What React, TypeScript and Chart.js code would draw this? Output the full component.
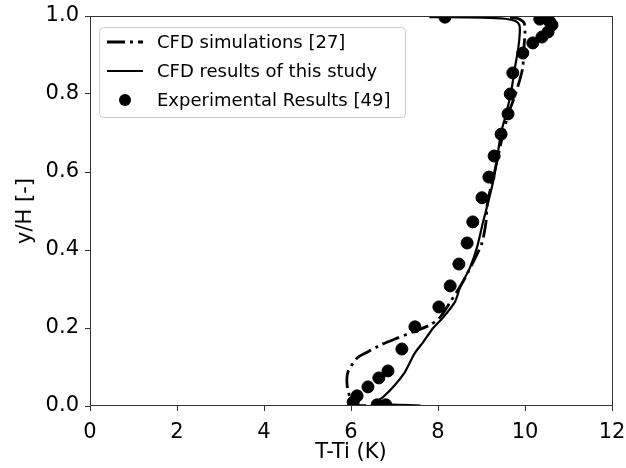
import React, { useEffect, useRef } from 'react';
import { Chart, registerables } from 'chart.js';

Chart.register(...registerables);

const FONT = "'DejaVu Sans', 'Liberation Sans', sans-serif";

// CFD simulations [27] (dash-dot)
const simX = [6.35, 6.05, 5.98, 5.91, 5.93, 6.14, 6.37, 6.67, 7.06, 7.43, 7.82, 8.05, 8.3, 8.57, 8.8, 9.01, 9.1, 9.13, 9.2, 9.3, 9.42, 9.5, 9.62, 9.75, 9.88, 9.95, 9.97, 10.0, 9.98, 9.85, 9.6];
const simY = [0.001, 0.003, 0.02, 0.054, 0.087, 0.123, 0.138, 0.156, 0.174, 0.19, 0.208, 0.228, 0.27, 0.318, 0.367, 0.418, 0.469, 0.515, 0.554, 0.6, 0.66, 0.7, 0.75, 0.79, 0.836, 0.869, 0.913, 0.956, 0.982, 0.993, 0.998];

// CFD results of this study (solid)
const thisX = [7.6, 7.1, 6.7, 6.5, 6.62, 6.74, 7.01, 7.24, 7.36, 7.47, 7.66, 7.89, 8.11, 8.39, 8.51, 8.74, 8.9, 9.03, 9.15, 9.26, 9.33, 9.45, 9.59, 9.7, 9.77, 9.84, 9.88, 9.87, 9.78, 9.55, 9.0, 7.8];
const thisY = [0.001, 0.003, 0.004, 0.006, 0.014, 0.023, 0.054, 0.087, 0.113, 0.136, 0.164, 0.2, 0.226, 0.267, 0.305, 0.356, 0.408, 0.469, 0.521, 0.572, 0.613, 0.7, 0.759, 0.818, 0.869, 0.913, 0.956, 0.977, 0.987, 0.993, 0.996, 0.997];

// Experimental Results [49] (markers)
const expX = [8.16, 10.34, 10.57, 10.62, 10.53, 10.39, 10.18, 9.95, 9.72, 9.66, 9.61, 9.45, 9.29, 9.17, 9.01, 8.8, 8.67, 8.48, 8.28, 8.02, 7.47, 7.17, 6.85, 6.64, 6.39, 6.14, 6.05, 6.6, 6.8];
const expY = [0.997, 0.992, 0.985, 0.977, 0.959, 0.946, 0.931, 0.905, 0.854, 0.8, 0.749, 0.697, 0.641, 0.587, 0.534, 0.472, 0.418, 0.364, 0.308, 0.254, 0.203, 0.146, 0.09, 0.072, 0.049, 0.026, 0.01, 0.003, 0.003];

const seriesLabels = ['CFD simulations [27]', 'CFD results of this study', 'Experimental Results [49]'];
const xTitle = 'T-Ti (K)';
const yTitle = 'y/H [-]';
const xRange = [0, 12];
const yRange = [0, 1];

const DASHDOT = [18, 5, 3, 5];

const toPts = (xs: number[], ys: number[]) => xs.map((x, i) => ({ x, y: ys[i] }));

const framePlugin = {
  id: 'frame',
  afterDatasetsDraw(chart: any) {
    const { ctx, chartArea: a } = chart;
    ctx.save();
    ctx.strokeStyle = '#333';
    ctx.lineWidth = 1;
    ctx.strokeRect(Math.round(a.left) + 0.5, Math.round(a.top) + 0.5, Math.round(a.right - a.left), Math.round(a.bottom - a.top) - 1);
    ctx.restore();
  },
};

const legendPlugin = {
  id: 'boxLegend',
  afterDraw(chart: any) {
    const { ctx } = chart;
    const x0 = 99.5, y0 = 27.5, w = 306, h = 90, r = 4;
    ctx.save();
    ctx.beginPath();
    ctx.moveTo(x0 + r, y0);
    ctx.lineTo(x0 + w - r, y0);
    ctx.quadraticCurveTo(x0 + w, y0, x0 + w, y0 + r);
    ctx.lineTo(x0 + w, y0 + h - r);
    ctx.quadraticCurveTo(x0 + w, y0 + h, x0 + w - r, y0 + h);
    ctx.lineTo(x0 + r, y0 + h);
    ctx.quadraticCurveTo(x0, y0 + h, x0, y0 + h - r);
    ctx.lineTo(x0, y0 + r);
    ctx.quadraticCurveTo(x0, y0, x0 + r, y0);
    ctx.closePath();
    ctx.fillStyle = 'rgba(255,255,255,0.8)';
    ctx.fill();
    ctx.strokeStyle = '#cccccc';
    ctx.lineWidth = 1;
    ctx.stroke();

    const rows = [42, 71, 100];
    const ds = chart.data.datasets;
    ctx.strokeStyle = '#000';
    ctx.fillStyle = '#000';
    // dash-dot handle
    ctx.lineWidth = 2.8;
    ctx.setLineDash(DASHDOT);
    ctx.beginPath();
    ctx.moveTo(107, rows[0]);
    ctx.lineTo(143, rows[0]);
    ctx.stroke();
    // solid handle
    ctx.setLineDash([]);
    ctx.lineWidth = 2.2;
    ctx.beginPath();
    ctx.moveTo(107, rows[1]);
    ctx.lineTo(143, rows[1]);
    ctx.stroke();
    // marker handle
    ctx.beginPath();
    ctx.arc(125, rows[2], 6, 0, Math.PI * 2);
    ctx.fill();

    ctx.font = `18px ${FONT}`;
    ctx.textBaseline = 'middle';
    ctx.textAlign = 'left';
    ds.forEach((d: any, i: number) => {
      ctx.fillText(d.label, 157, rows[i] + 1);
    });
    ctx.restore();
  },
};

export default function App() {
  const ref = useRef<HTMLCanvasElement | null>(null);
  useEffect(() => {
    document.body.style.margin = '0';
    Chart.defaults.font.family = FONT;
    const chart = new Chart(ref.current as HTMLCanvasElement, {
      type: 'scatter',
      data: {
        datasets: [
          {
            label: seriesLabels[0],
            data: toPts(simX, simY),
            showLine: true,
            borderColor: '#000',
            borderWidth: 2.8,
            borderDash: DASHDOT,
            pointRadius: 0,
            tension: 0.25,
            fill: false,
            clip: 0,
            order: 2,
          } as any,
          {
            label: seriesLabels[1],
            data: toPts(thisX, thisY),
            showLine: true,
            borderColor: '#000',
            borderWidth: 2.2,
            pointRadius: 0,
            tension: 0.25,
            fill: false,
            clip: 0,
            order: 1,
          } as any,
          {
            label: seriesLabels[2],
            data: toPts(expX, expY),
            showLine: false,
            backgroundColor: '#000',
            borderColor: '#000',
            pointRadius: 6,
            pointHoverRadius: 6,
            clip: 0,
            order: 0,
          } as any,
        ],
      },
      options: {
        animation: false,
        responsive: true,
        maintainAspectRatio: false,
        events: [],
        layout: { padding: { left: 0, right: 14, top: 16, bottom: 0 } },
        plugins: { legend: { display: false }, tooltip: { enabled: false } },
        scales: {
          x: {
            type: 'linear',
            min: xRange[0],
            max: xRange[1],
            afterFit: (s: any) => { s.height = 62; s.paddingLeft = 0; s.paddingRight = 0; },
            ticks: { stepSize: 2, color: '#000', font: { size: 21 }, padding: 9, callback: (v: any) => String(v) },
            grid: { display: true, drawOnChartArea: false, drawTicks: true, tickLength: 5, color: '#333' },
            border: { display: false },
            title: { display: true, text: xTitle, color: '#000', font: { size: 21 }, padding: { top: 0, bottom: 3 } },
          },
          y: {
            type: 'linear',
            min: yRange[0],
            max: yRange[1],
            afterFit: (s: any) => { s.width = 90; s.paddingTop = 0; s.paddingBottom = 0; },
            ticks: { stepSize: 0.2, color: '#000', font: { size: 21 }, padding: 6, callback: (v: any) => Number(v).toFixed(1) },
            grid: { display: true, drawOnChartArea: false, drawTicks: true, tickLength: 5, color: '#333' },
            border: { display: false },
            title: { display: true, text: yTitle, color: '#000', font: { size: 21 }, padding: { top: 13, bottom: 0 } },
          },
        },
      },
      plugins: [framePlugin, legendPlugin],
    });
    return () => chart.destroy();
  }, []);
  return (
    <div style={{ width: 626, height: 468, position: 'relative' }}>
      <canvas ref={ref} />
    </div>
  );
}
